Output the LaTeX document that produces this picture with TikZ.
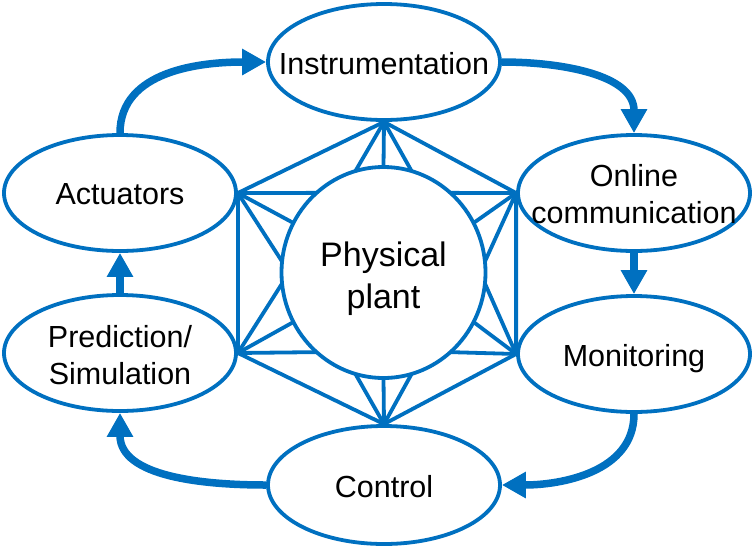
\documentclass[tikz,border=0pt]{standalone}
\usepackage{fontspec}
\setmainfont{Liberation Sans}
\usetikzlibrary{shapes.geometric,arrows.meta,calc}
\definecolor{pblue}{RGB}{0,112,192}
\newcommand\lbl[2][-5pt]{\raisebox{#1}[\height][\depth]{\makebox[0pt]{\begin{tabular}{@{}c@{}}#2\end{tabular}}}}
\begin{document}
\begin{tikzpicture}[x=1pt,y=1pt,
  ell/.style={ellipse,draw=pblue,line width=3.8pt,fill=white,minimum width=232pt,minimum height=116pt,inner sep=0pt,font=\fontsize{30.5}{37}\selectfont},
  hexline/.style={draw=pblue,line width=3.8pt},
  flow/.style={draw=pblue,line width=7.5pt,-{Triangle[length=24pt,width=25pt]}}]
\useasboundingbox (0,0) rectangle (753,-547);
% nodes
\node[ell] (instr) at (384,-62) {\lbl{Instrumentation}};
\node[ell] (online) at (634,-193) {\lbl{Online\\communication}};
\node[ell] (mon) at (634,-354) {\lbl{Monitoring}};
\node[ell,minimum height=118pt] (ctrl) at (384,-485) {\lbl{Control}};
\node[ell] (pred) at (120,-353) {\lbl[-6pt]{Prediction/\\Simulation}};
\node[ell] (act) at (120,-193) {\lbl[-4pt]{Actuators}};
\node[ell,minimum width=204pt,minimum height=211pt,font=\fontsize{34}{42}\selectfont] (plant) at (383.5,-272.5) {\lbl[-7pt]{Physical\\plant}};
% hexagon
\draw[hexline] (instr.south) -- (act.east) -- (pred.east) -- (ctrl.north) -- (mon.west) -- (online.west) -- cycle;
% spokes
\foreach \a in {74,90,106} \draw[hexline] (instr.south) -- ($(plant.center)+(\a:102pt and 105.5pt)$);
\foreach \a in {131,152,174} \draw[hexline] (act.east) -- ($(plant.center)+(\a:102pt and 105.5pt)$);
\foreach \a in {186,208,229} \draw[hexline] (pred.east) -- ($(plant.center)+(\a:102pt and 105.5pt)$);
\foreach \a in {254,270,286} \draw[hexline] (ctrl.north) -- ($(plant.center)+(\a:102pt and 105.5pt)$);
\foreach \a in {311,332,354} \draw[hexline] (mon.west) -- ($(plant.center)+(\a:102pt and 105.5pt)$);
\foreach \a in {6,28,49} \draw[hexline] (online.west) -- ($(plant.center)+(\a:102pt and 105.5pt)$);
% flow arrows
\draw[flow] (act.north) to[out=90,in=180] (instr.west);
\draw[flow] (instr.east) to[out=0,in=90] (online.north);
\draw[flow] (online.south) -- (mon.north);
\draw[flow] (mon.south) to[out=-90,in=0] (ctrl.east);
\draw[flow] (ctrl.west) to[out=180,in=-90] (pred.south);
\draw[flow] (pred.north) -- (act.south);
\end{tikzpicture}
\end{document}
